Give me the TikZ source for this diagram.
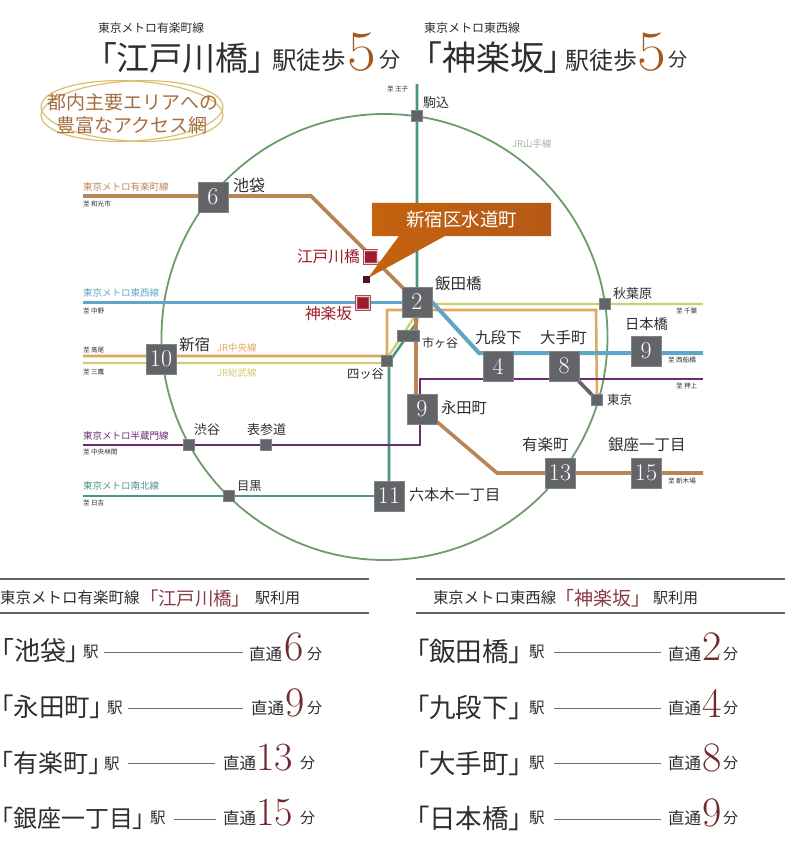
\documentclass[tikz,border=0pt]{standalone}
\usepackage{fontspec}
\setsansfont{Noto Sans CJK JP}
\newfontfamily\palfont[RawFeature={+palt}]{Noto Sans CJK JP}
\usetikzlibrary{backgrounds}
\newcommand\sz[1]{\sffamily\fontsize{#1}{#1}\selectfont}
\newcommand\pz[1]{\palfont\fontsize{#1}{#1}\selectfont}
\newcommand\nm[1]{\rmfamily\fontsize{#1}{#1}\selectfont}
\definecolor{ink}{HTML}{2E2E2E}
\definecolor{yur}{HTML}{B98557}
\definecolor{toz}{HTML}{5FA6C6}
\definecolor{chu}{HTML}{DFA860}
\definecolor{sob}{HTML}{CFCE6C}
\definecolor{nam}{HTML}{4A9488}
\definecolor{han}{HTML}{6B2A72}
\definecolor{yam}{HTML}{6E9B6C}
\definecolor{sta}{HTML}{636468}
\definecolor{redst}{HTML}{9C1C2C}
\definecolor{wine}{HTML}{6E2A2E}
\definecolor{wine2}{HTML}{8A3A48}
\definecolor{gold}{HTML}{D9BF6E}
\definecolor{ovtx}{HTML}{A56E42}
\definecolor{five}{HTML}{A4581F}
\definecolor{callA}{HTML}{C4620F}
\definecolor{callB}{HTML}{F07A18}
\definecolor{callC}{HTML}{B55A16}
\definecolor{pinc}{HTML}{4A1030}
\tikzset{
 lab/.style={anchor=west,inner sep=0pt,outer sep=0pt,text=ink},
 bignum/.style={anchor=west,inner sep=0pt,outer sep=0pt},
 stbig/.style={rectangle,fill=sta,draw=sta!80,line width=.5pt,minimum size=30pt,inner sep=0pt,text=white,font=\nm{24}},
 stsmall/.style={rectangle,fill=sta,draw=sta!80,line width=.5pt,minimum size=11pt,inner sep=0pt},
 stred/.style={rectangle,fill=redst,draw=redst!80,double=white!80!redst,double distance=1pt,line width=.8pt,minimum size=13pt,inner sep=0pt},
 rowline/.style={draw=ink!70,line width=.7pt},
 rule/.style={draw=ink!75,line width=1.2pt}
}
\begin{document}
\begin{tikzpicture}[x=1pt,y=-1pt]
\useasboundingbox (0,0) rectangle (800,850);

% header
\node[lab,font=\sz{11.8}] (h1a) at (98,28) {東京メトロ有楽町線};
\node[lab,font=\pz{33}] (h1b) at (100,58) {「江戸川橋」};
\node[lab,font=\sz{24.5}] (h1c) at (272,60) {駅徒歩};
\node[bignum,font=\nm{57},text=five,xscale=1.1] (h1d) at (347,52) {5};
\node[lab,font=\sz{21}] (h1e) at (379,60) {分};
\node[lab,font=\sz{12}] (h2a) at (424,28) {東京メトロ東西線};
\node[lab,font=\pz{34}] (h2b) at (425,58) {「神楽坂」};
\node[lab,font=\sz{24}] (h2c) at (565,60) {駅徒歩};
\node[bignum,font=\nm{57},text=five,xscale=1.1] (h2d) at (637,52) {5};
\node[lab,font=\sz{19}] (h2e) at (668,60) {分};

% oval
\draw[gold,line width=1.2pt,rotate around={3:(132,111)}] (132,111) ellipse [x radius=91,y radius=30];
\draw[gold,line width=1.2pt,rotate around={-3:(132,111)}] (132,111) ellipse [x radius=91,y radius=30];
\node[lab,font=\sz{19},text=ovtx] (ov1) at (47,102) {都内主要エリアへの};
\node[lab,font=\sz{19},text=ovtx] (ov2) at (56,125) {豊富なアクセス網};

% stations
\node[stbig] (n6) at (213,197) {6};
\node[stbig] (n2) at (417,302) {2};
\node[stbig] (n4) at (498,366) {4};
\node[stbig] (n8) at (564,366) {8};
\node[stbig] (n9a) at (646,351) {9};
\node[stbig] (n9b) at (422,409) {9};
\node[stbig] (n13) at (560,473) {13};
\node[stbig] (n15) at (646,473) {15};
\node[stbig] (n11) at (389,496) {11};
\node[stbig] (n10) at (161,359) {10};
\node[stsmall] (komagome) at (417,116) {};
\node[stsmall] (akiba) at (605,304) {};
\node[stsmall] (tokyo) at (597,400) {};
\node[stsmall] (yotsuya) at (387,361) {};
\node[stsmall] (shibuya) at (189,445) {};
\node[stsmall] (omote) at (266,445) {};
\node[stsmall] (meguro) at (229,496) {};
\node[rectangle,fill=sta,draw=sta!80,line width=.5pt,minimum width=22pt,minimum height=11pt,inner sep=0pt] (ichi) at (408,336) {};

% free ends and bends
\coordinate (yW) at (83,196); \coordinate (yA) at (311,196);
\coordinate (yB) at (416,302); \coordinate (yC) at (416,405);
\coordinate (yD) at (497,473); \coordinate (yE) at (703,473);
\coordinate (tW) at (83,302); \coordinate (tA) at (432,302);
\coordinate (tB) at (479,353); \coordinate (tE) at (703,353);
\coordinate (cW) at (83,356); \coordinate (cA) at (387,356);
\coordinate (cB) at (387,310); \coordinate (cC) at (596,310);
\coordinate (sW) at (83,363); \coordinate (sA) at (384,363);
\coordinate (sB) at (423,304); \coordinate (sE) at (703,304);
\coordinate (nN) at (417,84); \coordinate (nA) at (417,322);
\coordinate (nB) at (389,362); \coordinate (nW) at (83,496);
\coordinate (hW) at (83,445); \coordinate (hA) at (420,445);
\coordinate (hB) at (420,379); \coordinate (hE) at (703,379);

\begin{scope}[on background layer]
\draw[yam,line width=1.8pt] (384.5,337) circle [radius=223];
\draw[nam,line width=2.6pt,line join=round] (nN) -- (nA) -- (nB) -- (n11.center);
\draw[nam,line width=2pt] (nW) -- (n11.center);
\draw[chu,line width=2.6pt] (cW) -- (cA) -- (cB) -- (cC) -- (tokyo.center);
\draw[sob,line width=2.4pt] (sW) -- (sA) -- (sB) -- (sE);
\draw[han,line width=2.6pt] (hW) -- (hA) -- (hB) -- (hE);
\draw[toz,line width=3pt] (tW) -- (tA);
\draw[toz,line width=4pt] (tA) -- (tB) -- (tE);
\draw[yur,line width=3.6pt] (yW) -- (yA) -- (n2.center);
\draw[yur,line width=3.6pt] (yB) -- (yC) (n9b.center) -- (yD) -- (yE);
\draw[sta,line width=3.6pt] (n8.center) -- (tokyo.center);
\end{scope}

% callout
\coordinate (pin) at (368,278);
\shade[left color=callA,middle color=callB,right color=callC]
 (372,203) -- (551,203) -- (551,236) -- (445,236) -- (pin) -- (399,236) -- (372,236) -- cycle;
\node[rectangle,fill=pinc,minimum size=7pt,inner sep=0pt] (pinsq) at (366,279) {};
\node[lab,font=\sz{18.5},text=white] (callt) at (406,220) {新宿区水道町};

\node[stred] (edo) at (370.5,257) {};
\node[stred] (kagu) at (363,303) {};
\node[lab,font=\sz{15.7},text=redst] (edot) at (297,257) {江戸川橋};
\node[lab,font=\sz{15.7},text=redst] (kagut) at (305,314) {神楽坂};

% station labels
\node[lab,font=\sz{16}] (l1) at (233,185) {池袋};
\node[lab,font=\sz{13}] (l2) at (423,103) {駒込};
\node[lab,font=\sz{15.5}] (l3) at (435,284) {飯田橋};
\node[lab,font=\sz{13}] (l4) at (613,294) {秋葉原};
\node[lab,font=\sz{14.3}] (l5) at (625,324) {日本橋};
\node[lab,font=\sz{15.5}] (l6) at (475,338) {九段下};
\node[lab,font=\sz{15.5}] (l7) at (540,338) {大手町};
\node[lab,font=\sz{12.5}] (l8) at (607,400) {東京};
\node[lab,font=\sz{12}] (l9) at (422,343) {市ヶ谷};
\node[lab,font=\sz{15.3}] (l10) at (441,408) {永田町};
\node[lab,font=\sz{15.5}] (l11) at (522,445) {有楽町};
\node[lab,font=\sz{15.5}] (l12) at (608,445) {銀座一丁目};
\node[lab,font=\sz{15.2}] (l13) at (409,495) {六本木一丁目};
\node[lab,font=\sz{15.5}] (l14) at (179,345) {新宿};
\node[lab,font=\sz{12.3}] (l15) at (347,374) {四ッ谷};
\node[lab,font=\sz{13}] (l16) at (194,430) {渋谷};
\node[lab,font=\sz{13}] (l17) at (247,430) {表参道};
\node[lab,font=\sz{12.3}] (l18) at (237,486) {目黒};

% line names
\node[lab,font=\sz{9.5},text=yur] (m1) at (83,187) {東京メトロ有楽町線};
\node[lab,font=\sz{9.5},text=toz] (m2) at (83,293) {東京メトロ東西線};
\node[lab,font=\sz{9.5},text=han] (m3) at (83,436) {東京メトロ半蔵門線};
\node[lab,font=\sz{9.5},text=nam] (m4) at (83,486) {東京メトロ南北線};
\node[lab,font=\sz{9.5},text=yam!70] (m5) at (512,144) {JR山手線};
\node[lab,font=\sz{9.5},text=chu] (m6) at (217,348) {JR中央線};
\node[lab,font=\sz{9.5},text=sob] (m7) at (217,373) {JR総武線};

% directions
\node[lab,font=\sz{6.6}] (d1) at (83,204) {至 和光市};
\node[lab,font=\sz{6.6}] (d2) at (387,89) {至 王子};
\node[lab,font=\sz{6.6}] (d3) at (83,311) {至 中野};
\node[lab,font=\sz{6.6}] (d4) at (83,350) {至 高尾};
\node[lab,font=\sz{6.6}] (d5) at (83,372) {至 三鷹};
\node[lab,font=\sz{6.6}] (d6) at (83,452) {至 中央林間};
\node[lab,font=\sz{6.6}] (d7) at (83,503) {至 日吉};
\node[lab,font=\sz{6.6}] (d8) at (676,311) {至 千葉};
\node[lab,font=\sz{6.6}] (d9) at (668,360) {至 西船橋};
\node[lab,font=\sz{6.6}] (d10) at (676,386) {至 押上};
\node[lab,font=\sz{6.6}] (d11) at (668,481) {至 新木場};

% bottom panels
\coordinate (r1a) at (0,579); \coordinate (r1b) at (369,579);
\coordinate (r2a) at (0,613); \coordinate (r2b) at (369,613);
\coordinate (r3a) at (416,579); \coordinate (r3b) at (785,579);
\coordinate (r4a) at (416,613); \coordinate (r4b) at (785,613);
\draw[rule] (r1a) -- (r1b); \draw[rule] (r2a) -- (r2b);
\draw[rule] (r3a) -- (r3b); \draw[rule] (r4a) -- (r4b);
\node[lab,font=\sz{15.5}] (p1a) at (0,598) {東京メトロ有楽町線};
\node[lab,font=\pz{18.5},text=wine2] (p1b) at (149,598) {「江戸川橋」};
\node[lab,font=\sz{15}] (p1c) at (255,598) {駅利用};
\node[lab,font=\sz{15.4}] (p2a) at (433,598) {東京メトロ東西線};
\node[lab,font=\pz{19},text=wine2] (p2b) at (565,598) {「神楽坂」};
\node[lab,font=\sz{15}] (p2c) at (653,598) {駅利用};

% left rows
\node[lab,font=\pz{26}] (a1) at (1,651) {「池袋」};
\node[lab,font=\sz{15.5}] (a1e) at (83,652) {駅};
\node[lab,font=\sz{16.5}] (a1t) at (249,654) {直通};
\node[bignum,font=\nm{42},text=wine] (a1n) at (284,647) {6};
\node[lab,font=\sz{15}] (a1m) at (307,654) {分};
\node[lab,font=\pz{25.5}] (a2) at (1,707) {「永田町」};
\node[lab,font=\sz{15.5}] (a2e) at (107,708) {駅};
\node[lab,font=\sz{16.5}] (a2t) at (251,708) {直通};
\node[bignum,font=\nm{42},text=wine] (a2n) at (285,703) {9};
\node[lab,font=\sz{15}] (a2m) at (307,708) {分};
\node[lab,font=\pz{25}] (a3) at (1,763) {「有楽町」};
\node[lab,font=\sz{15.5}] (a3e) at (104,764) {駅};
\node[lab,font=\sz{16.5}] (a3t) at (223,763) {直通};
\node[bignum,font=\nm{40},text=wine] (a3n) at (256,758) {13};
\node[lab,font=\sz{15}] (a3m) at (300,763) {分};
\node[lab,font=\pz{24}] (a4) at (1,818) {「銀座一丁目」};
\node[lab,font=\sz{15.5}] (a4e) at (150,818) {駅};
\node[lab,font=\sz{16.5}] (a4t) at (223,818) {直通};
\node[bignum,font=\nm{40},text=wine] (a4n) at (256,813) {15};
\node[lab,font=\sz{15}] (a4m) at (300,818) {分};
\coordinate (a1s) at (104,652); \coordinate (a1f) at (243,652);
\coordinate (a2s) at (128,708); \coordinate (a2f) at (243,708);
\coordinate (a3s) at (128,763); \coordinate (a3f) at (215,763);
\coordinate (a4s) at (174,819); \coordinate (a4f) at (216,819);
\draw[rowline] (a1s) -- (a1f);
\draw[rowline] (a2s) -- (a2f); \draw[rowline] (a3s) -- (a3f); \draw[rowline] (a4s) -- (a4f);

% right rows
\node[lab,font=\pz{26.5}] (b1) at (416,651) {「飯田橋」};
\node[lab,font=\sz{15.5}] (b1e) at (529,652) {駅};
\node[lab,font=\sz{16.5}] (b1t) at (668,654) {直通};
\node[bignum,font=\nm{42},text=wine] (b1n) at (702,647) {2};
\node[lab,font=\sz{15}] (b1m) at (723,654) {分};
\node[lab,font=\pz{26.5}] (b2) at (416,707) {「九段下」};
\node[lab,font=\sz{15.5}] (b2e) at (529,708) {駅};
\node[lab,font=\sz{16.5}] (b2t) at (668,708) {直通};
\node[bignum,font=\nm{42},text=wine] (b2n) at (702,703) {4};
\node[lab,font=\sz{15}] (b2m) at (723,708) {分};
\node[lab,font=\pz{26.5}] (b3) at (416,763) {「大手町」};
\node[lab,font=\sz{15.5}] (b3e) at (529,763) {駅};
\node[lab,font=\sz{16.5}] (b3t) at (668,763) {直通};
\node[bignum,font=\nm{42},text=wine] (b3n) at (702,758) {8};
\node[lab,font=\sz{15}] (b3m) at (723,763) {分};
\node[lab,font=\pz{26.5}] (b4) at (416,818) {「日本橋」};
\node[lab,font=\sz{15.5}] (b4e) at (529,818) {駅};
\node[lab,font=\sz{16.5}] (b4t) at (668,818) {直通};
\node[bignum,font=\nm{42},text=wine] (b4n) at (702,813) {9};
\node[lab,font=\sz{15}] (b4m) at (723,818) {分};
\coordinate (b1s) at (554,652); \coordinate (b1f) at (661,652);
\coordinate (b2s) at (554,708); \coordinate (b2f) at (661,708);
\coordinate (b3s) at (554,763); \coordinate (b3f) at (661,763);
\coordinate (b4s) at (554,819); \coordinate (b4f) at (661,819);
\draw[rowline] (b1s) -- (b1f); \draw[rowline] (b2s) -- (b2f);
\draw[rowline] (b3s) -- (b3f); \draw[rowline] (b4s) -- (b4f);
\end{tikzpicture}
\end{document}
